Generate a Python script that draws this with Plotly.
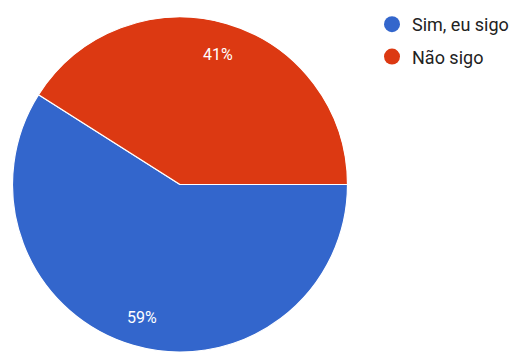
import math
import plotly.graph_objects as go

labels = ["Sim, eu sigo", "Não sigo"]
values = [59, 41]
colors = ["#3366cc", "#dc3912"]

W, H = 514, 352
dom_x = [12.5 / W, 347.5 / W]
dom_y = [0, 1 - 17 / H]

fig = go.Figure()
fig.add_trace(go.Pie(
    labels=labels, values=values, sort=False, direction="clockwise", rotation=90,
    marker=dict(colors=colors, line=dict(color="white", width=1.2)),
    textinfo="none", showlegend=False, hoverinfo="label+percent",
    domain=dict(x=dom_x, y=dom_y),
))
for lab, col in zip(labels, colors):
    fig.add_trace(go.Scatter(
        x=[None], y=[None], mode="markers", name=lab, legendgroup=lab,
        marker=dict(symbol="circle", size=16, color=col),
    ))

# percentage labels placed along each slice's mid-angle
cx_px = (dom_x[0] + dom_x[1]) / 2 * W
cy_px = (dom_y[0] + dom_y[1]) / 2 * H
r_px = min((dom_x[1] - dom_x[0]) * W, (dom_y[1] - dom_y[0]) * H) / 2
total = sum(values)
start = 90.0  # clockwise from 12 o'clock
for v in values:
    span = v / total * 360
    mid = start + span / 2
    start += span
    ang = math.radians(mid)
    x = (cx_px + 0.82 * r_px * math.sin(ang)) / W
    y = (cy_px + 0.82 * r_px * math.cos(ang) - 1.5) / H
    fig.add_annotation(x=x, y=y, xref="paper", yref="paper", showarrow=False,
                       xanchor="center", yanchor="middle",
                       text=f"{round(v / total * 100)}%",
                       font=dict(color="white", size=16, family="Roboto"))

fig.update_layout(
    width=W, height=H, margin=dict(l=0, r=0, t=0, b=0),
    paper_bgcolor="white", plot_bgcolor="white",
    xaxis=dict(visible=False), yaxis=dict(visible=False),
    font=dict(family="Roboto", color="#222222"),
    legend=dict(x=372 / W, xanchor="left", y=1 - 6 / H, yanchor="top",
                font=dict(size=18, color="#222222", family="Roboto"),
                tracegroupgap=6, bgcolor="rgba(0,0,0,0)"),
)
fig.write_html("out.html", config={"displayModeBar": False},
               post_script="document.body.style.margin='0';")
